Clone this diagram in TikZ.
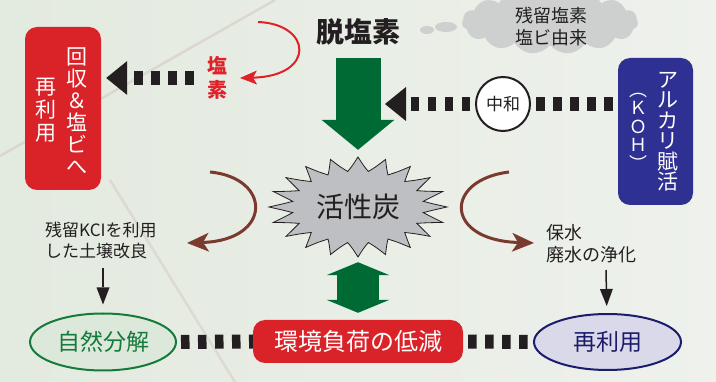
\documentclass[tikz,border=0pt]{standalone}
\usepackage{fontspec}
\newfontfamily\jp{Noto Sans CJK JP}
\usetikzlibrary{arrows.meta,shapes.symbols,shapes.geometric,calc}
\definecolor{bgL}{HTML}{E3EADF}
\definecolor{bgR}{HTML}{EEF1EC}
\definecolor{boxred}{HTML}{DA2229}
\definecolor{navy}{HTML}{2E3192}
\definecolor{dgreen}{HTML}{006A35}
\definecolor{brownarc}{HTML}{7A3B2E}
\definecolor{arcred}{HTML}{E02128}
\definecolor{burstgray}{HTML}{BEBFC3}
\definecolor{cloudgray}{HTML}{CDD0CE}
\definecolor{inkdark}{HTML}{231F20}
\definecolor{ellgreenfill}{HTML}{DCE8DA}
\definecolor{ellgreen}{HTML}{157A3B}
\definecolor{ellbluefill}{HTML}{D9D9EA}
\definecolor{ellblue}{HTML}{1C1C6B}
\newcommand\fsz[2]{\fontsize{#1}{#2}\selectfont}
\begin{document}
\begin{tikzpicture}[x=1pt,y=-1pt,
  redbox/.style={rectangle, rounded corners=12, fill=boxred, inner sep=0},
  bluebx/.style={rectangle, rounded corners=12, fill=navy, inner sep=0},
  vtxt/.style={align=center, inner sep=0, text=white},
  dotarrow/.style={draw=inkdark, line width=14, dash pattern=on 8.5pt off 8.5pt,
    -{Triangle[length=21pt,width=34pt,line width=0pt]}},
  dotline/.style={draw=inkdark, line width=14, dash pattern=on 8.5pt off 8.5pt},
  bigarrow/.style={draw=dgreen, line width=45, -{Triangle[length=30pt,width=73pt,line width=0pt]}},
  dblarrow/.style={draw=dgreen, line width=42,
    {Triangle[length=13pt,width=63pt,line width=0pt]}-{Triangle[length=13pt,width=63pt,line width=0pt]}},
  brownarrow/.style={draw=brownarc, line width=3, -{Stealth[length=22pt,width=19pt,inset=6pt,line width=0pt]}},
  redarc/.style={draw=arcred, line width=2, -{Stealth[length=17pt,width=14pt,inset=4pt,line width=0pt]}},
  thinarrow/.style={draw=inkdark, line width=1.5, -{Triangle[length=17pt,width=13pt,line width=0pt]}},
  smalltxt/.style={align=left, inner sep=0, text=inkdark, font=\jp\fsz{17}{21}},
]
\clip (0,0) rectangle (716,382);
% background
\shade[left color=bgL, right color=bgR] (0,0) rectangle (716,382);
\draw[line width=2.5, color=brownarc!40, opacity=0.35] (0,156) -- (275,0);
\draw[line width=2.5, color=brownarc!40, opacity=0.3] (110,180) -- (235,382);
% cloud
\node[cloud, cloud puffs=15, cloud puff arc=110, aspect=3, fill=cloudgray, draw=none,
  minimum width=176, minimum height=64, inner sep=0] (cloud) at (550,22) {};
\fill[cloudgray] (427,30) ellipse (7 and 4);
\fill[cloudgray] (446,27) ellipse (11 and 5);
\node[align=center, inner sep=0, text=inkdark, font=\jp\fsz{18}{22}] (cloudtxt) at (551,27) {残留塩素\\塩ビ由来};
% burst
\filldraw[fill=burstgray, draw=inkdark, line width=0.8]
  (447,207) \foreach \k in {0,...,19} {
   .. controls ({358+75*cos(\k*18+4.5)},{207+41*sin(\k*18+4.5)}) ..
      ({358+66*cos(\k*18+9)},{207+36*sin(\k*18+9)})
   .. controls ({358+75*cos(\k*18+13.5)},{207+41*sin(\k*18+13.5)}) ..
      ({358+89*cos(\k*18+18)},{207+50*sin(\k*18+18)}) } -- cycle;
\node[ellipse, minimum width=178, minimum height=100, inner sep=0, text=inkdark,
  font=\jp\fsz{28}{28}] (burst) at (358,207) {活性炭};
% title
\node[inner sep=0, text=inkdark, font=\jp\bfseries\fsz{28}{28}] (datsu) at (358,32) {脱塩素};
\coordinate (gtop) at (358,58);
\draw[bigarrow, shorten >=7] (gtop) -- (burst.north);
% left red box
\node[redbox, minimum width=76, minimum height=163] (recycle) at (63,108.5) {};
\node[vtxt, font=\jp\fsz{21}{22}] (rc1) at (77,111) {回\\収\\＆\\塩\\ビ\\へ};
\node[vtxt, font=\jp\fsz{21}{23}] (rc2) at (46,110) {再\\利\\用};
% red chlorine text
\node[align=center, inner sep=0, text=arcred, font=\jp\bfseries\fsz{20}{24}] (enso) at (217,78) {塩\\素};
\draw[dotarrow, shorten <=13, shorten >=5] (enso.west) -- (enso.west -| recycle.east);
\coordinate (rs) at (258,22);
\coordinate (re) at (240,78);
\draw[redarc] (rs) .. controls (312,24) and (316,76) .. (re);
% blue box
\node[bluebx, minimum width=75, minimum height=147] (alkali) at (655.5,131.5) {};
\node[vtxt, font=\jp\fsz{21}{20.5}] (al1) at (668,131.5) {ア\\ル\\カ\\リ\\賦\\活};
\node[vtxt, font=\jp\fsz{18}{18.5}] (al2) at (638,131.5) {︵\\Ｋ\\Ｏ\\Ｈ\\︶};
% neutralisation
\node[circle, draw=inkdark, line width=2, fill=white, minimum size=54, inner sep=0,
  text=inkdark, font=\jp\fsz{17}{17}] (chuwa) at (503,104) {中和};
\coordinate (gtip) at (385,104);
\draw[dotline, shorten <=5, shorten >=5] (alkali.west |- chuwa) -- (chuwa.east);
\draw[dotarrow, shorten <=5] (chuwa.west) -- (gtip);
% brown arcs
\coordinate (lbs) at (210,172);
\coordinate (lbe) at (187,243);
\draw[brownarrow] (lbs) .. controls (272,178) and (272,240) .. (lbe);
\coordinate (rbs) at (509,172);
\coordinate (rbe) at (534,243);
\draw[brownarrow] (rbs) .. controls (444,180) and (444,240) .. (rbe);
% side texts
\node[smalltxt, anchor=west] (kcl) at (45,240) {残留KCIを利用\\した土壌改良};
\node[smalltxt, anchor=west, font=\jp\fsz{18}{22}] (hosui) at (546,244) {保水\\廃水の浄化};
% bottom row
\node[redbox, minimum width=210, minimum height=43, text=white, font=\jp\fsz{24}{24}] (kankyo) at (358,341.5) {環境負荷の低減};
\node[ellipse, draw=ellgreen, line width=2, fill=ellgreenfill, minimum width=146, minimum height=57,
  inner sep=0, text=ellgreen, font=\jp\fsz{23}{23}] (shizen) at (103,342) {自然分解};
\node[ellipse, draw=ellblue, line width=2, fill=ellbluefill, minimum width=147, minimum height=56,
  inner sep=0, text=ellblue, font=\jp\fsz{23}{23}] (saiyou) at (607.5,342) {再利用};
\draw[dblarrow, shorten <=5, shorten >=7] (burst.south) -- (kankyo.north);
\draw[dotline, shorten <=4] (shizen.east) -- (kankyo.west);
\draw[dotline, shorten <=5] (kankyo.east) -- (saiyou.west);
\coordinate (d1) at (103,268);
\draw[thinarrow, shorten >=8] (d1) -- (shizen);
\coordinate (d2) at (606,270);
\draw[thinarrow, shorten >=7] (d2) -- (saiyou);
\end{tikzpicture}
\end{document}
